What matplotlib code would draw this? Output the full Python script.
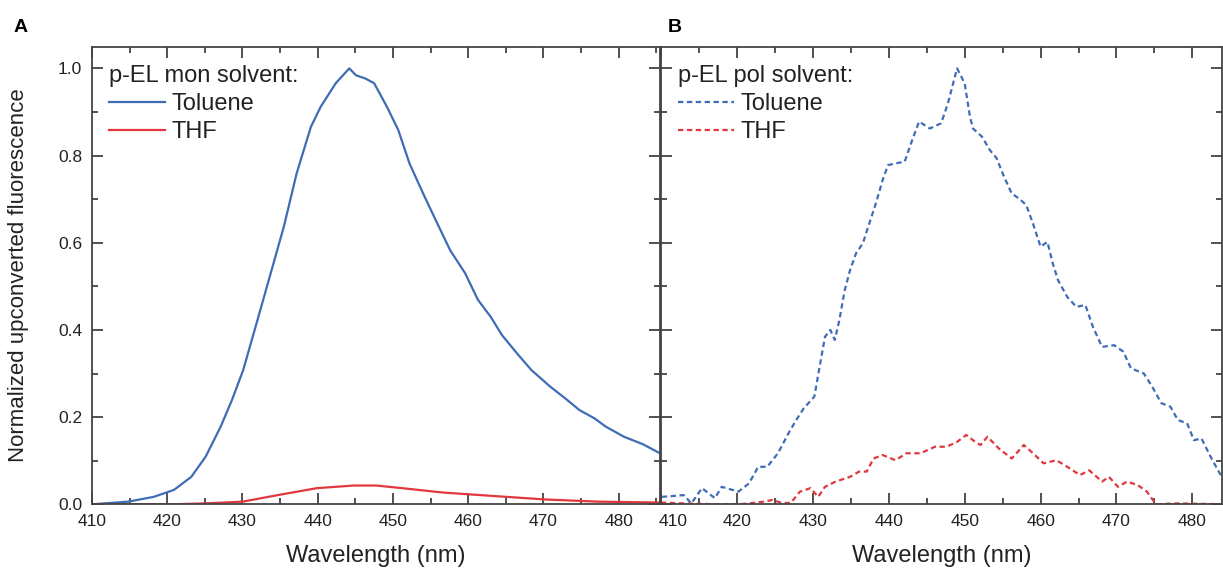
import numpy as np
import matplotlib.pyplot as plt
from matplotlib.ticker import MultipleLocator
from matplotlib.transforms import ScaledTranslation

plt.rcParams['font.family'] = ['Liberation Sans', 'DejaVu Sans']

# panel A: monomer, solid lines
wl_mon_tol = [410, 414.8, 418.2, 420.9, 423.2, 425.1, 427.1, 428.6, 430.1, 432.0, 434.0,
              435.5, 437.2, 439.1, 440.4, 442.4, 444.2, 445.1, 446.3, 447.5, 449.2, 450.7,
              452.2, 454.2, 456.1, 457.6, 459.6, 461.3, 463.0, 464.5, 466.5, 468.4, 470.9,
              472.9, 474.8, 476.8, 478.3, 480.7, 483.2, 485.5]
mon_tol = [0.0, 0.006, 0.017, 0.033, 0.063, 0.109, 0.178, 0.239, 0.308, 0.423, 0.545,
           0.637, 0.759, 0.866, 0.912, 0.966, 1.0, 0.984, 0.977, 0.966, 0.912, 0.859,
           0.782, 0.706, 0.637, 0.583, 0.530, 0.469, 0.430, 0.388, 0.346, 0.308, 0.270,
           0.243, 0.216, 0.197, 0.178, 0.155, 0.138, 0.117]
wl_mon_thf = [410, 420.7, 425, 430, 435, 439.9, 444.8, 447.8, 451.2, 456.6, 462.5, 470.3,
              477.3, 485.5]
mon_thf = [0.0, 0.0, 0.002, 0.006, 0.022, 0.037, 0.043, 0.043, 0.037, 0.027, 0.020, 0.011,
           0.006, 0.004]

# panel B: polymer, dashed lines
wl_pol_tol = [410.1, 413, 414, 415.4, 417.1, 418, 420.2, 421.6, 422.8, 424, 425.4, 426.8,
              427.8, 428.8, 430.2, 430.9, 431.6, 432.3, 432.9, 433.5, 434.2, 434.9, 435.7,
              436.6, 437.3, 438.3, 439.2, 439.9, 440.9, 442.1, 443.1, 444, 445.4, 446.9,
              447.8, 449, 450, 450.7, 451.1, 452.3, 453.3, 454.2, 455.2, 456.2, 457.1,
              458.1, 459, 460, 460.9, 461.6, 462.3, 463.5, 464.7, 465.9, 466.9, 468.1,
              469.7, 470.9, 471.9, 473.6, 474.7, 475.9, 477.1, 478.1, 479.3, 480.2, 481.2,
              482.4, 483.6, 484.5]
pol_tol = [0.017, 0.021, 0.002, 0.037, 0.014, 0.040, 0.029, 0.048, 0.086, 0.086, 0.117,
           0.163, 0.193, 0.220, 0.247, 0.316, 0.384, 0.400, 0.377, 0.423, 0.491, 0.537,
           0.576, 0.599, 0.637, 0.690, 0.744, 0.778, 0.782, 0.786, 0.836, 0.878, 0.862,
           0.874, 0.920, 1.0, 0.966, 0.889, 0.862, 0.843, 0.813, 0.794, 0.751, 0.713,
           0.702, 0.687, 0.644, 0.591, 0.602, 0.553, 0.514, 0.476, 0.453, 0.457, 0.407,
           0.361, 0.365, 0.350, 0.312, 0.300, 0.270, 0.232, 0.224, 0.193, 0.186, 0.147,
           0.151, 0.109, 0.071, 0.05]
wl_pol_thf = [410, 413, 417.3, 420.2, 421.6, 423.5, 424.7, 425.9, 427.1, 428.3, 429.7,
              430.7, 431.6, 433, 434.9, 436.1, 437.1, 438, 439.2, 440.9, 442.3, 444.2,
              446.1, 447.6, 449, 450.2, 451.4, 452.1, 453, 454.5, 456.2, 457.8, 459,
              460.4, 462.1, 463.5, 465.2, 466.4, 468.1, 469, 470.2, 471.4, 472.8, 474,
              475.2, 478, 484.5]
pol_thf = [0.004, 0.002, 0.0, 0.0, 0.002, 0.006, 0.010, 0.003, 0.003, 0.029, 0.037,
           0.017, 0.040, 0.052, 0.063, 0.075, 0.075, 0.105, 0.113, 0.101, 0.117, 0.117,
           0.132, 0.132, 0.143, 0.159, 0.143, 0.136, 0.155, 0.128, 0.105, 0.136, 0.117,
           0.094, 0.101, 0.086, 0.067, 0.078, 0.052, 0.063, 0.040, 0.052, 0.044, 0.029,
           0.0, 0.002, 0.0]

blue = '#3f6db5'
red = '#e0383e'
txt = '#222222'
dash = (0, (2.4, 1.6))

fig = plt.figure(figsize=(12.23, 5.75), dpi=100)
axA = fig.add_axes([92 / 1223, 0.123, 568 / 1223, 0.796])
axB = fig.add_axes([661 / 1223, 0.123, 561 / 1223, 0.796])

axA.plot(wl_mon_tol, mon_tol, color=blue, lw=1.6, label='Toluene')
axA.plot(wl_mon_thf, mon_thf, color=red, lw=1.6, label='THF')
axB.plot(wl_pol_tol, pol_tol, color=blue, lw=1.6, ls=dash, label='Toluene')
axB.plot(wl_pol_thf, pol_thf, color=red, lw=1.6, ls=dash, label='THF')

axA.set_xlim(410, 485.5)
axB.set_xlim(410, 483.9)
for ax in (axA, axB):
    ax.set_ylim(0, 1.05)
    ax.xaxis.set_major_locator(MultipleLocator(10))
    ax.xaxis.set_minor_locator(MultipleLocator(5))
    ax.yaxis.set_major_locator(MultipleLocator(0.2))
    ax.yaxis.set_minor_locator(MultipleLocator(0.1))
    ax.tick_params(which='both', direction='in', top=True, right=True,
                   colors='#333333', labelcolor=txt, labelsize=12.5, pad=7)
    ax.tick_params(which='major', length=8, width=1.2)
    ax.tick_params(which='minor', length=4, width=1.2)
    for s in ax.spines.values():
        s.set_color('#444444')
        s.set_linewidth(1.3)
    ax.set_xlabel('Wavelength (nm)', fontsize=17, color=txt)
    ax.xaxis.set_label_coords(0.5, -0.089)

axA.yaxis.set_major_formatter(plt.FormatStrFormatter('%.1f'))
axB.tick_params(labelleft=False)
axA.set_ylabel('Normalized upconverted fluorescence', fontsize=16, color=txt)
axA.yaxis.set_label_coords(-0.111, 0.5)

# first tick label of panel B sits a bit to the right of the shared spine
fig.canvas.draw()
for lab in axB.get_xticklabels():
    if lab.get_text() == '410':
        lab.set_transform(lab.get_transform() + ScaledTranslation(0.12, 0, fig.dpi_scale_trans))

for ax, title in ((axA, 'p-EL mon solvent:'), (axB, 'p-EL pol solvent:')):
    leg = ax.legend(title=title, loc='upper left', bbox_to_anchor=(0.0, 0.995),
                    frameon=False, fontsize=17, title_fontsize=17, handlelength=2.4,
                    handletextpad=0.25, labelspacing=0.25, borderaxespad=0.3,
                    alignment='left')
    for t in leg.get_texts():
        t.set_color(txt)
    leg.get_title().set_color(txt)

fig.text(14 / 1223, 1 - 28 / 575, 'A', fontsize=14, fontweight='bold', va='center')
fig.text(668 / 1223, 1 - 28 / 575, 'B', fontsize=14, fontweight='bold', va='center')

fig.savefig('out.png', dpi=100)
